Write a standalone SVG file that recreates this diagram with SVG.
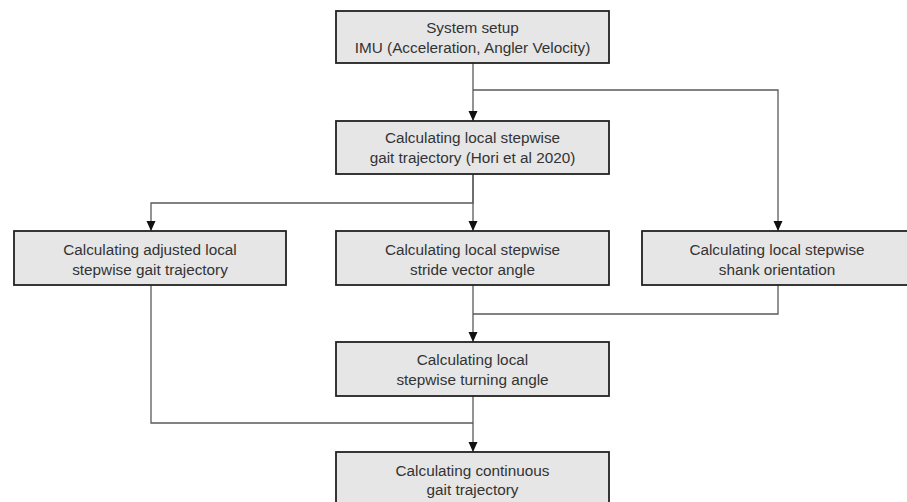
<svg xmlns="http://www.w3.org/2000/svg" width="907" height="502" viewBox="0 0 907 502">
<style>
.box{fill:#e6e6e6;stroke:#222;stroke-width:1.8}
.lbl{font-family:"Liberation Sans",Arial,sans-serif;font-size:15.3px;fill:#333;text-anchor:middle}
.con{fill:none;stroke:#5a5a5a;stroke-width:1.3}
</style>
<defs>
<marker id="ah" markerUnits="userSpaceOnUse" markerWidth="10" markerHeight="10" viewBox="0 0 10 10" refX="10" refY="5" orient="auto">
<path d="M0,0.5 L10,5 L0,9.5 Z" fill="#111"/>
</marker>
</defs>
<rect width="907" height="502" fill="#fff"/>
<g id="connectors">
<path class="con" d="M473,63 V121" marker-end="url(#ah)"/>
<path class="con" d="M473,90 H778 V231" marker-end="url(#ah)"/>
<path class="con" d="M473,174 V231" marker-end="url(#ah)"/>
<path class="con" d="M473,174 V203 H151 V231" marker-end="url(#ah)"/>
<path class="con" d="M473,285 V342" marker-end="url(#ah)"/>
<path class="con" d="M778,285 V314 H473"/>
<path class="con" d="M473,396 V452" marker-end="url(#ah)"/>
<path class="con" d="M151,285 V423 H473"/>
</g>
<g id="n_setup">
<rect class="box" x="336" y="11" width="273" height="52"/>
<text class="lbl" x="472.5" y="33">System setup</text>
<text class="lbl" x="472.5" y="53">IMU (Acceleration, Angler Velocity)</text>
</g>
<g id="n_local">
<rect class="box" x="336" y="121" width="273" height="53"/>
<text class="lbl" x="472.5" y="143">Calculating local stepwise</text>
<text class="lbl" x="472.5" y="163">gait trajectory (Hori et al 2020)</text>
</g>
<g id="n_adjusted">
<rect class="box" x="14" y="231" width="272" height="54"/>
<text class="lbl" x="150" y="255">Calculating adjusted local</text>
<text class="lbl" x="150" y="275">stepwise gait trajectory</text>
</g>
<g id="n_stride">
<rect class="box" x="336" y="231" width="273" height="54"/>
<text class="lbl" x="472.5" y="255">Calculating local stepwise</text>
<text class="lbl" x="472.5" y="275">stride vector angle</text>
</g>
<g id="n_shank">
<rect class="box" x="642" y="231" width="272" height="54"/>
<text class="lbl" x="777" y="255">Calculating local stepwise</text>
<text class="lbl" x="777" y="275">shank orientation</text>
</g>
<g id="n_turning">
<rect class="box" x="336" y="342" width="273" height="54"/>
<text class="lbl" x="472.5" y="365">Calculating local</text>
<text class="lbl" x="472.5" y="385">stepwise turning angle</text>
</g>
<g id="n_continuous">
<rect class="box" x="336" y="452" width="273" height="60"/>
<text class="lbl" x="472.5" y="476">Calculating continuous</text>
<text class="lbl" x="472.5" y="495">gait trajectory</text>
</g>
</svg>
